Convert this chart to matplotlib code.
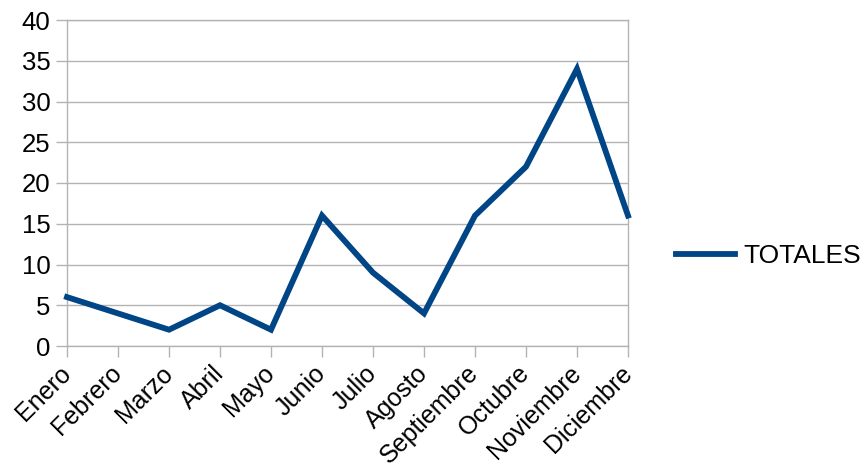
import matplotlib
matplotlib.use("Agg")
import matplotlib.pyplot as plt

months = ["Enero", "Febrero", "Marzo", "Abril", "Mayo", "Junio", "Julio",
          "Agosto", "Septiembre", "Octubre", "Noviembre", "Diciembre"]
totales = [6, 4, 2, 5, 2, 16, 9, 4, 16, 22, 34, 16]
yticks = [0, 5, 10, 15, 20, 25, 30, 35, 40]

plt.rcParams['font.family'] = ['Liberation Sans', 'DejaVu Sans']

fig = plt.figure(figsize=(8.66, 4.72), dpi=100)
ax = fig.add_axes([67/866, 1 - 346/472, (628-67)/866, (346-20)/472])

x = list(range(len(months)))
line, = ax.plot(x, totales, color='#004586', linewidth=4.2, solid_joinstyle='miter',
                label='TOTALES', clip_on=False, zorder=3)

ax.set_xlim(0, len(months) - 1)
ax.set_ylim(0, 40)
ax.set_yticks(yticks)
ax.set_yticklabels([str(v) for v in yticks], fontsize=18.5)
ax.set_xticks(x)
ax.set_xticklabels(months, fontsize=18, rotation=45, ha='right', va='center',
                   rotation_mode='anchor')

grid_c = '#b3b3b3'
ax.yaxis.grid(True, color=grid_c, linewidth=1)
ax.set_axisbelow(True)
for s in ax.spines.values():
    s.set_color(grid_c)
    s.set_linewidth(1)
ax.tick_params(axis='both', colors=grid_c, length=8, width=1, labelcolor='black')
ax.tick_params(axis='y', pad=4)
ax.tick_params(axis='x', pad=9)

fig.legend(handles=[line], labels=['TOTALES'], loc='center left',
           bbox_to_anchor=(676/866, 1 - 256/472), frameon=False, fontsize=19,
           handlelength=2.25, handletextpad=0.3, borderpad=0, borderaxespad=0)

fig.savefig('out.png', dpi=100)
